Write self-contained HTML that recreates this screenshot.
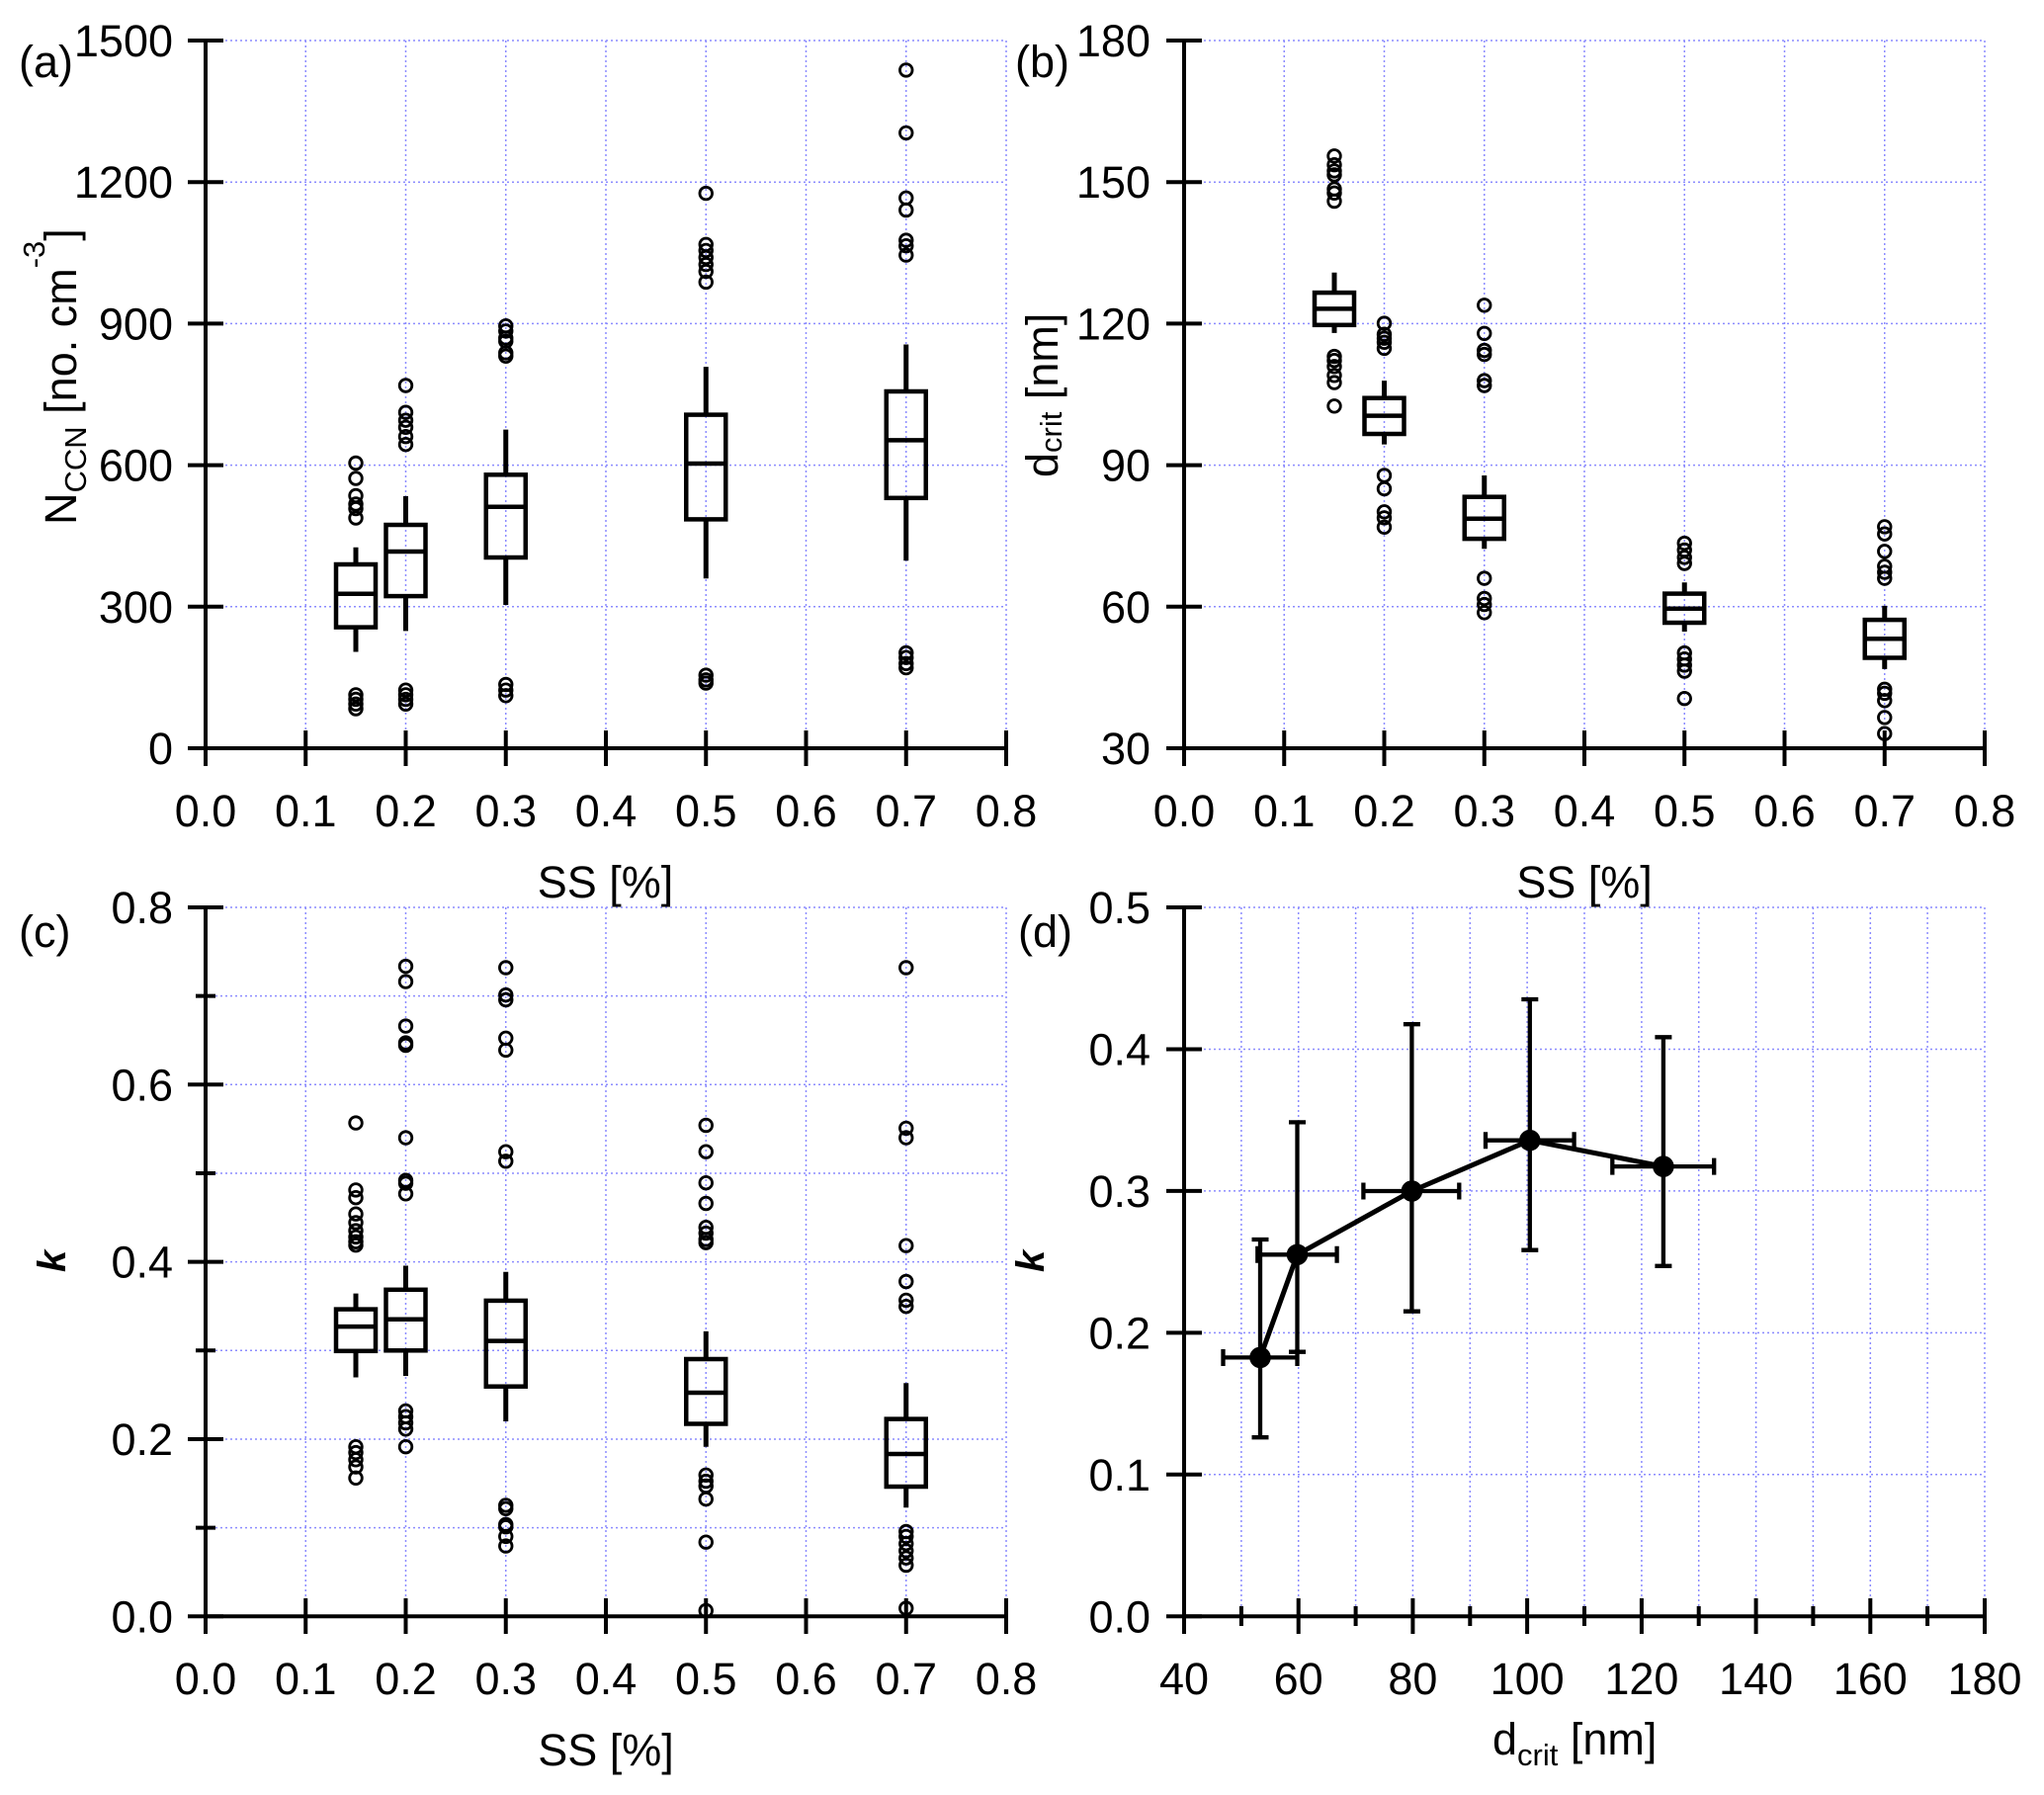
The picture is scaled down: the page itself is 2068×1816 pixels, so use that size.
<!DOCTYPE html>
<html><head><meta charset="utf-8"><style>
html,body{margin:0;padding:0;background:#fff;}
svg{display:block;}
text{font-family:"Liberation Sans",Arial,sans-serif;fill:#000;}
</style></head><body>
<svg width="2068" height="1816" viewBox="0 0 2068 1816" xmlns="http://www.w3.org/2000/svg">
<rect width="2068" height="1816" fill="#fff"/>
<!-- GRID -->
<g stroke="#8c8cff" stroke-width="1.5" stroke-dasharray="2,3" fill="none">
<path d="M309.25 41V757M410.5 41V757M511.75 41V757M613 41V757M714.25 41V757M815.5 41V757M916.75 41V757M1018 41V757M208 41H1018M208 184.2H1018M208 327.4H1018M208 470.6H1018M208 613.8H1018"/>
<path d="M1299.25 41V757M1400.5 41V757M1501.75 41V757M1603 41V757M1704.25 41V757M1805.5 41V757M1906.75 41V757M2008 41V757M1198 41H2008M1198 184.2H2008M1198 327.4H2008M1198 470.6H2008M1198 613.8H2008"/>
<path d="M309.25 918V1635M410.5 918V1635M511.75 918V1635M613 918V1635M714.25 918V1635M815.5 918V1635M916.75 918V1635M1018 918V1635M208 918H1018M208 1007.6H1018M208 1097.3H1018M208 1187H1018M208 1276.6H1018M208 1366.3H1018M208 1456H1018M208 1545.6H1018"/>
<path d="M1255.9 918V1635M1313.7 918V1635M1371.6 918V1635M1429.4 918V1635M1487.3 918V1635M1545.1 918V1635M1603 918V1635M1660.9 918V1635M1718.7 918V1635M1776.6 918V1635M1834.4 918V1635M1892.3 918V1635M1950.1 918V1635M2008 918V1635M1198 918H2008M1198 1061.5H2008M1198 1204.9H2008M1198 1348.4H2008M1198 1491.8H2008"/>
</g>
<!-- AXES & TICKS -->
<g stroke="#000" stroke-width="4" fill="none">
<path d="M208 41V757H1018"/>
<path d="M190 757H226M190 613.8H226M190 470.6H226M190 327.4H226M190 184.2H226M190 41H226"/>
<path d="M208 739V775M309.25 739V775M410.5 739V775M511.75 739V775M613 739V775M714.25 739V775M815.5 739V775M916.75 739V775M1018 739V775"/>
<path d="M1198 41V757H2008"/>
<path d="M1180 757H1216M1180 613.8H1216M1180 470.6H1216M1180 327.4H1216M1180 184.2H1216M1180 41H1216"/>
<path d="M1198 739V775M1299.25 739V775M1400.5 739V775M1501.75 739V775M1603 739V775M1704.25 739V775M1805.5 739V775M1906.75 739V775M2008 739V775"/>
<path d="M208 918V1635.3H1018"/>
<path d="M190 918H226M190 1097.3H226M190 1276.6H226M190 1456H226M190 1635.3H226M198 1007.6H218M198 1187H218M198 1366.3H218M198 1545.6H218"/>
<path d="M208 1617V1653M309.25 1617V1653M410.5 1617V1653M511.75 1617V1653M613 1617V1653M714.25 1617V1653M815.5 1617V1653M916.75 1617V1653M1018 1617V1653"/>
<path d="M1198 918V1635.3H2008"/>
<path d="M1180 918H1216M1180 1061.5H1216M1180 1204.9H1216M1180 1348.4H1216M1180 1491.8H1216M1180 1635.3H1216"/>
<path d="M1198 1617V1653M1313.7 1617V1653M1429.4 1617V1653M1545.1 1617V1653M1660.9 1617V1653M1776.6 1617V1653M1892.3 1617V1653M2008 1617V1653M1255.9 1625V1645M1371.6 1625V1645M1487.3 1625V1645M1603 1625V1645M1718.7 1625V1645M1834.4 1625V1645M1950.1 1625V1645"/>
</g>
<!-- TICK LABELS -->
<g font-size="45" text-anchor="end">
<text x="175" y="773">0</text><text x="175" y="629.8">300</text><text x="175" y="486.6">600</text><text x="175" y="343.4">900</text><text x="175" y="200.2">1200</text><text x="175" y="57">1500</text>
<text x="1164" y="773">30</text><text x="1164" y="629.8">60</text><text x="1164" y="486.6">90</text><text x="1164" y="343.4">120</text><text x="1164" y="200.2">150</text><text x="1164" y="57">180</text>
<text x="175" y="1651.3">0.0</text><text x="175" y="1472">0.2</text><text x="175" y="1292.6">0.4</text><text x="175" y="1113.3">0.6</text><text x="175" y="934">0.8</text>
<text x="1164" y="1651.3">0.0</text><text x="1164" y="1507.8">0.1</text><text x="1164" y="1364.4">0.2</text><text x="1164" y="1220.9">0.3</text><text x="1164" y="1077.5">0.4</text><text x="1164" y="934">0.5</text>
</g>
<g font-size="45" text-anchor="middle">
<text x="208" y="836">0.0</text><text x="309.25" y="836">0.1</text><text x="410.5" y="836">0.2</text><text x="511.75" y="836">0.3</text><text x="613" y="836">0.4</text><text x="714.25" y="836">0.5</text><text x="815.5" y="836">0.6</text><text x="916.75" y="836">0.7</text><text x="1018" y="836">0.8</text>
<text x="1198" y="836">0.0</text><text x="1299.25" y="836">0.1</text><text x="1400.5" y="836">0.2</text><text x="1501.75" y="836">0.3</text><text x="1603" y="836">0.4</text><text x="1704.25" y="836">0.5</text><text x="1805.5" y="836">0.6</text><text x="1906.75" y="836">0.7</text><text x="2008" y="836">0.8</text>
<text x="208" y="1714">0.0</text><text x="309.25" y="1714">0.1</text><text x="410.5" y="1714">0.2</text><text x="511.75" y="1714">0.3</text><text x="613" y="1714">0.4</text><text x="714.25" y="1714">0.5</text><text x="815.5" y="1714">0.6</text><text x="916.75" y="1714">0.7</text><text x="1018" y="1714">0.8</text>
<text x="1198" y="1714">40</text><text x="1313.7" y="1714">60</text><text x="1429.4" y="1714">80</text><text x="1545.1" y="1714">100</text><text x="1660.9" y="1714">120</text><text x="1776.6" y="1714">140</text><text x="1892.3" y="1714">160</text><text x="2008" y="1714">180</text>
<text x="612.5" y="908">SS [%]</text>
<text x="1603" y="908">SS [%]</text>
<text x="613" y="1786">SS [%]</text>
</g>
<text x="1510" y="1775" font-size="45">d<tspan font-size="31" dy="11">crit</tspan><tspan dy="-11"> [nm]</tspan></text>
<!-- Y axis titles -->
<text transform="translate(77,531) rotate(-90)" font-size="45">N<tspan font-size="31" dy="10">CCN</tspan><tspan dy="-10"> [no. cm</tspan><tspan font-size="31" dy="-32">-3</tspan><tspan dy="32">]</tspan></text>
<text transform="translate(1070,483) rotate(-90)" font-size="45">d<tspan font-size="31" dy="4">crit</tspan><tspan dy="-4"> [nm]</tspan></text>
<text transform="translate(66,1287) rotate(-90)" font-size="40" font-weight="bold" font-style="italic">k</text>
<text transform="translate(1056,1287) rotate(-90)" font-size="40" font-weight="bold" font-style="italic">k</text>
<!-- Panel labels -->
<g font-size="45">
<text x="19" y="78">(a)</text><text x="1027" y="78">(b)</text><text x="19" y="958">(c)</text><text x="1030" y="958">(d)</text>
</g>
<!-- BOXES -->
<g stroke="#000" stroke-width="4.5" fill="none">
<!-- panel a -->
<rect x="340" y="571" width="40" height="63.6"/><path d="M340 600.7H380"/><path stroke-width="5" d="M360 553.7V571M360 634.6V659.5"/>
<rect x="390.5" y="531" width="40" height="72.1"/><path d="M390.5 558H430.5"/><path stroke-width="5" d="M410.5 502V531M410.5 603.1V638.4"/>
<rect x="491.75" y="480.3" width="40" height="83.7"/><path d="M491.75 512.7H531.75"/><path stroke-width="5" d="M511.75 434.6V480.3M511.75 564V612"/>
<rect x="694.25" y="419.6" width="40" height="105.8"/><path d="M694.25 469H734.25"/><path stroke-width="5" d="M714.25 371.1V419.6M714.25 525.4V585.2"/>
<rect x="896.75" y="396" width="40" height="107.8"/><path d="M896.75 445.4H936.75"/><path stroke-width="5" d="M916.75 348.5V396M916.75 503.8V567.3"/>
<!-- panel b -->
<rect x="1330" y="296.1" width="40" height="32.7"/><path d="M1330 312.4H1370"/><path stroke-width="5" d="M1350 275.7V296.1M1350 328.8V336.9"/>
<rect x="1380.5" y="402.7" width="40" height="36.3"/><path d="M1380.5 420.6H1420.5"/><path stroke-width="5" d="M1400.5 385.1V402.7M1400.5 439V449.6"/>
<rect x="1481.75" y="502.7" width="40" height="42.4"/><path d="M1481.75 524.7H1521.75"/><path stroke-width="5" d="M1501.75 481V502.7M1501.75 545.1V555.3"/>
<rect x="1684.25" y="600.6" width="40" height="29.4"/><path d="M1684.25 615.7H1724.25"/><path stroke-width="5" d="M1704.25 589.2V600.6M1704.25 630V639"/>
<rect x="1886.75" y="627.1" width="40" height="38.4"/><path d="M1886.75 646.3H1926.75"/><path stroke-width="5" d="M1906.75 612.9V627.1M1906.75 665.5V676.9"/>
<!-- panel c -->
<rect x="340" y="1324.6" width="40" height="42.2"/><path d="M340 1342.1H380"/><path stroke-width="5" d="M360 1308.6V1324.6M360 1366.8V1393.5"/>
<rect x="390.5" y="1304.8" width="40" height="61.5"/><path d="M390.5 1334.8H430.5"/><path stroke-width="5" d="M410.5 1280.5V1304.8M410.5 1366.3V1392"/>
<rect x="491.75" y="1315.9" width="40" height="86.8"/><path d="M491.75 1356.6H531.75"/><path stroke-width="5" d="M511.75 1286.8V1315.9M511.75 1402.7V1438"/>
<rect x="694.25" y="1375" width="40" height="65.5"/><path d="M694.25 1409H734.25"/><path stroke-width="5" d="M714.25 1346.9V1375M714.25 1440.5V1463.7"/>
<rect x="896.75" y="1435.6" width="40" height="68.4"/><path d="M896.75 1471H936.75"/><path stroke-width="5" d="M916.75 1399.3V1435.6M916.75 1504V1525.3"/>
</g>
<!-- OUTLIERS -->
<g stroke="#000" stroke-width="2.8" fill="none">
<!-- a 0.15 -->
<circle cx="360" cy="468.5" r="6.3"/><circle cx="360" cy="484" r="6.3"/><circle cx="360" cy="501.5" r="6.3"/><circle cx="360" cy="510" r="6.3"/><circle cx="360" cy="514.6" r="6.3"/><circle cx="360" cy="524" r="6.3"/>
<circle cx="360" cy="702.9" r="6.3"/><circle cx="360" cy="707.5" r="6.3"/><circle cx="360" cy="712.3" r="6.3"/><circle cx="360" cy="717" r="6.3"/>
<!-- a 0.2 -->
<circle cx="410.5" cy="390" r="6.3"/><circle cx="410.5" cy="417.2" r="6.3"/><circle cx="410.5" cy="425.2" r="6.3"/><circle cx="410.5" cy="432.3" r="6.3"/><circle cx="410.5" cy="441.7" r="6.3"/><circle cx="410.5" cy="449.7" r="6.3"/>
<circle cx="410.5" cy="698.2" r="6.3"/><circle cx="410.5" cy="702.9" r="6.3"/><circle cx="410.5" cy="707.6" r="6.3"/><circle cx="410.5" cy="712.3" r="6.3"/>
<!-- a 0.3 -->
<circle cx="511.75" cy="329.7" r="6.3"/><circle cx="511.75" cy="334.9" r="6.3"/><circle cx="511.75" cy="341.9" r="6.3"/><circle cx="511.75" cy="345.2" r="6.3"/><circle cx="511.75" cy="357" r="6.3"/><circle cx="511.75" cy="360.3" r="6.3"/>
<circle cx="511.75" cy="692.5" r="6.3"/><circle cx="511.75" cy="698.2" r="6.3"/><circle cx="511.75" cy="703.8" r="6.3"/>
<!-- a 0.5 -->
<circle cx="714.25" cy="195.6" r="6.3"/><circle cx="714.25" cy="247.3" r="6.3"/><circle cx="714.25" cy="253.4" r="6.3"/><circle cx="714.25" cy="260.5" r="6.3"/><circle cx="714.25" cy="267.6" r="6.3"/><circle cx="714.25" cy="274.6" r="6.3"/><circle cx="714.25" cy="285.4" r="6.3"/>
<circle cx="714.25" cy="683.1" r="6.3"/><circle cx="714.25" cy="687.8" r="6.3"/><circle cx="714.25" cy="691.1" r="6.3"/>
<!-- a 0.7 -->
<circle cx="916.75" cy="70.9" r="6.3"/><circle cx="916.75" cy="134.4" r="6.3"/><circle cx="916.75" cy="200.3" r="6.3"/><circle cx="916.75" cy="212.5" r="6.3"/><circle cx="916.75" cy="243.1" r="6.3"/><circle cx="916.75" cy="248.7" r="6.3"/><circle cx="916.75" cy="258.1" r="6.3"/>
<circle cx="916.75" cy="660.5" r="6.3"/><circle cx="916.75" cy="665.2" r="6.3"/><circle cx="916.75" cy="671.3" r="6.3"/><circle cx="916.75" cy="675.6" r="6.3"/>
<!-- b 0.15 -->
<circle cx="1350" cy="157.8" r="6.3"/><circle cx="1350" cy="166.7" r="6.3"/><circle cx="1350" cy="172.9" r="6.3"/><circle cx="1350" cy="176.9" r="6.3"/><circle cx="1350" cy="191.2" r="6.3"/><circle cx="1350" cy="195.3" r="6.3"/><circle cx="1350" cy="203.5" r="6.3"/>
<circle cx="1350" cy="360.6" r="6.3"/><circle cx="1350" cy="364.7" r="6.3"/><circle cx="1350" cy="370.8" r="6.3"/><circle cx="1350" cy="379.8" r="6.3"/><circle cx="1350" cy="387.1" r="6.3"/><circle cx="1350" cy="410.8" r="6.3"/>
<!-- b 0.2 -->
<circle cx="1400.5" cy="327.1" r="6.3"/><circle cx="1400.5" cy="338.2" r="6.3"/><circle cx="1400.5" cy="342.2" r="6.3"/><circle cx="1400.5" cy="346.3" r="6.3"/><circle cx="1400.5" cy="352.4" r="6.3"/>
<circle cx="1400.5" cy="481" r="6.3"/><circle cx="1400.5" cy="494.5" r="6.3"/><circle cx="1400.5" cy="517.8" r="6.3"/><circle cx="1400.5" cy="523.9" r="6.3"/><circle cx="1400.5" cy="533.3" r="6.3"/>
<!-- b 0.3 -->
<circle cx="1501.75" cy="308.8" r="6.3"/><circle cx="1501.75" cy="337.3" r="6.3"/><circle cx="1501.75" cy="354.5" r="6.3"/><circle cx="1501.75" cy="358.6" r="6.3"/><circle cx="1501.75" cy="385.1" r="6.3"/><circle cx="1501.75" cy="390" r="6.3"/>
<circle cx="1501.75" cy="585.1" r="6.3"/><circle cx="1501.75" cy="605.5" r="6.3"/><circle cx="1501.75" cy="611.6" r="6.3"/><circle cx="1501.75" cy="619.8" r="6.3"/>
<!-- b 0.5 -->
<circle cx="1704.25" cy="549.6" r="6.3"/><circle cx="1704.25" cy="556.5" r="6.3"/><circle cx="1704.25" cy="563.9" r="6.3"/><circle cx="1704.25" cy="570" r="6.3"/>
<circle cx="1704.25" cy="660.6" r="6.3"/><circle cx="1704.25" cy="666.7" r="6.3"/><circle cx="1704.25" cy="672.9" r="6.3"/><circle cx="1704.25" cy="679" r="6.3"/><circle cx="1704.25" cy="706.7" r="6.3"/>
<!-- b 0.7 -->
<circle cx="1906.75" cy="532.9" r="6.3"/><circle cx="1906.75" cy="540.2" r="6.3"/><circle cx="1906.75" cy="557.8" r="6.3"/><circle cx="1906.75" cy="572.9" r="6.3"/><circle cx="1906.75" cy="579" r="6.3"/><circle cx="1906.75" cy="585.1" r="6.3"/>
<circle cx="1906.75" cy="697.3" r="6.3"/><circle cx="1906.75" cy="701.4" r="6.3"/><circle cx="1906.75" cy="708.8" r="6.3"/><circle cx="1906.75" cy="725.9" r="6.3"/><circle cx="1906.75" cy="742.2" r="6.3"/>
<!-- c 0.15 -->
<circle cx="360" cy="1136.1" r="6.3"/><circle cx="360" cy="1203.9" r="6.3"/><circle cx="360" cy="1211.7" r="6.3"/><circle cx="360" cy="1228.2" r="6.3"/><circle cx="360" cy="1236.9" r="6.3"/><circle cx="360" cy="1245.1" r="6.3"/><circle cx="360" cy="1251.4" r="6.3"/><circle cx="360" cy="1256.3" r="6.3"/><circle cx="360" cy="1259.7" r="6.3"/>
<circle cx="360" cy="1463.7" r="6.3"/><circle cx="360" cy="1469.6" r="6.3"/><circle cx="360" cy="1476.8" r="6.3"/><circle cx="360" cy="1484.1" r="6.3"/><circle cx="360" cy="1495.3" r="6.3"/>
<!-- c 0.2 -->
<circle cx="410.5" cy="977.6" r="6.3"/><circle cx="410.5" cy="993.1" r="6.3"/><circle cx="410.5" cy="1038.1" r="6.3"/><circle cx="410.5" cy="1055.1" r="6.3"/><circle cx="410.5" cy="1057.5" r="6.3"/><circle cx="410.5" cy="1151.1" r="6.3"/><circle cx="410.5" cy="1194.2" r="6.3"/><circle cx="410.5" cy="1197.1" r="6.3"/><circle cx="410.5" cy="1207.8" r="6.3"/>
<circle cx="410.5" cy="1427.4" r="6.3"/><circle cx="410.5" cy="1433.2" r="6.3"/><circle cx="410.5" cy="1439.5" r="6.3"/><circle cx="410.5" cy="1445.8" r="6.3"/><circle cx="410.5" cy="1463.7" r="6.3"/>
<!-- c 0.3 -->
<circle cx="511.75" cy="979" r="6.3"/><circle cx="511.75" cy="1006.6" r="6.3"/><circle cx="511.75" cy="1011.5" r="6.3"/><circle cx="511.75" cy="1050.3" r="6.3"/><circle cx="511.75" cy="1062.4" r="6.3"/><circle cx="511.75" cy="1165.2" r="6.3"/><circle cx="511.75" cy="1174.8" r="6.3"/>
<circle cx="511.75" cy="1522.9" r="6.3"/><circle cx="511.75" cy="1526.3" r="6.3"/><circle cx="511.75" cy="1542.3" r="6.3"/><circle cx="511.75" cy="1544.7" r="6.3"/><circle cx="511.75" cy="1554.4" r="6.3"/><circle cx="511.75" cy="1564.1" r="6.3"/>
<!-- c 0.5 -->
<circle cx="714.25" cy="1138.5" r="6.3"/><circle cx="714.25" cy="1165.2" r="6.3"/><circle cx="714.25" cy="1196.7" r="6.3"/><circle cx="714.25" cy="1217.5" r="6.3"/><circle cx="714.25" cy="1241.7" r="6.3"/><circle cx="714.25" cy="1247.6" r="6.3"/><circle cx="714.25" cy="1253.9" r="6.3"/><circle cx="714.25" cy="1257.2" r="6.3"/>
<circle cx="714.25" cy="1492.3" r="6.3"/><circle cx="714.25" cy="1498.6" r="6.3"/><circle cx="714.25" cy="1503.5" r="6.3"/><circle cx="714.25" cy="1516.6" r="6.3"/><circle cx="714.25" cy="1560.2" r="6.3"/><circle cx="714.25" cy="1629.5" r="6.3"/>
<!-- c 0.7 -->
<circle cx="916.75" cy="979" r="6.3"/><circle cx="916.75" cy="1141.4" r="6.3"/><circle cx="916.75" cy="1151.1" r="6.3"/><circle cx="916.75" cy="1260.2" r="6.3"/><circle cx="916.75" cy="1296.5" r="6.3"/><circle cx="916.75" cy="1315.4" r="6.3"/><circle cx="916.75" cy="1321.7" r="6.3"/>
<circle cx="916.75" cy="1549.5" r="6.3"/><circle cx="916.75" cy="1554.4" r="6.3"/><circle cx="916.75" cy="1561.7" r="6.3"/><circle cx="916.75" cy="1568.9" r="6.3"/><circle cx="916.75" cy="1576.2" r="6.3"/><circle cx="916.75" cy="1583.5" r="6.3"/><circle cx="916.75" cy="1627.1" r="6.3"/>
</g>
<!-- PANEL D -->
<g stroke="#000" stroke-width="4.3" fill="none">
<path d="M1237.5 1373.4H1312.5M1237.5 1365V1382M1312.5 1365V1382M1275 1254V1454.2M1266.5 1254H1283.5M1266.5 1454.2H1283.5"/>
<path d="M1272.3 1269.3H1352.6M1272.3 1260.8V1277.8M1352.6 1260.8V1277.8M1312.5 1135.4V1367.7M1304 1135.4H1321M1304 1367.7H1321"/>
<path d="M1379.4 1205H1476.3M1379.4 1196.5V1213.5M1476.3 1196.5V1213.5M1428.4 1036.2V1326.7M1419.9 1036.2H1436.9M1419.9 1326.7H1436.9"/>
<path d="M1503 1153.7H1592.6M1503 1145.2V1162.2M1592.6 1145.2V1162.2M1547.8 1011V1264.7M1539.3 1011H1556.3M1539.3 1264.7H1556.3"/>
<path d="M1631.3 1180.1H1734.2M1631.3 1171.6V1188.6M1734.2 1171.6V1188.6M1682.9 1049.3V1280.8M1674.4 1049.3H1691.4M1674.4 1280.8H1691.4"/>
<polyline stroke-width="5" stroke-linejoin="round" points="1275,1373.4 1312.5,1269.3 1428.4,1205 1547.8,1153.7 1682.9,1180.1"/>
</g>
<g fill="#000">
<circle cx="1275" cy="1373.4" r="10.8"/><circle cx="1312.5" cy="1269.3" r="10.8"/><circle cx="1428.4" cy="1205" r="10.8"/><circle cx="1547.8" cy="1153.7" r="10.8"/><circle cx="1682.9" cy="1180.1" r="10.8"/>
</g>
</svg>
</body></html>
